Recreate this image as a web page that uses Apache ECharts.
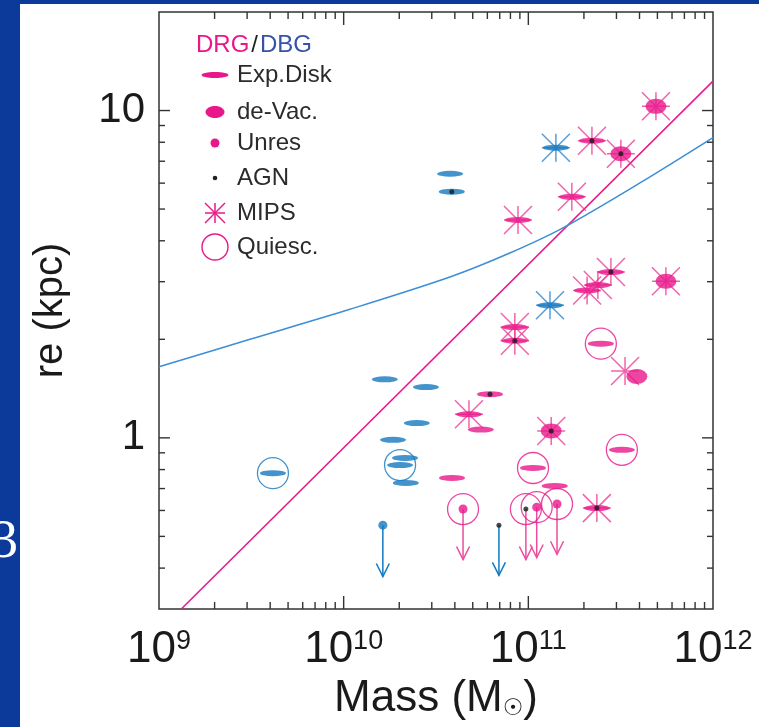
<!DOCTYPE html>
<html>
<head>
<meta charset="utf-8">
<script src="https://cdn.jsdelivr.net/npm/echarts@6/dist/echarts.min.js"></script>
<style>
  html, body { margin: 0; padding: 0; background: #0b3a9b; }
  #chart { width: 759px; height: 727px; }
</style>
</head>
<body>
<div id="chart"></div>
<script>
const PINK = '#e8188b';
const BLUE = '#1479c1';
const CURVE_BLUE = '#3d8ed6';
const FONT = '"Liberation Sans", Arial, sans-serif';

// all points are [mass (Msun), re (kpc)]
const diskDRG = [
  [2.21e11, 8.09], [1.72e11, 5.45], [8.79e10, 4.63], [2.08e11, 2.82], [2.38e11, 2.93],
  [2.80e11, 3.21], [8.45e10, 2.18], [8.45e10, 1.98], [2.47e11, 1.94], [6.20e10, 1.36],
  [4.77e10, 1.18], [5.53e10, 1.06], [3.21e11, 0.919], [1.06e11, 0.809], [3.86e10, 0.754],
  [1.39e11, 0.713], [2.35e11, 0.61]
];
const diskDBG = [
  [3.77e10, 6.41], [3.85e10, 5.65], [1.41e11, 7.7], [1.31e11, 2.54], [1.67e10, 1.51],
  [2.79e10, 1.43], [2.49e10, 1.11], [1.85e10, 0.986], [2.15e10, 0.868], [2.02e10, 0.826],
  [2.17e10, 0.728], [4.14e9, 0.78]
];
const devacDRG = [
  [4.91e11, 10.3], [3.17e11, 7.38], [5.56e11, 3.01], [3.87e11, 1.54], [1.33e11, 1.05]
];
const mipsDRG = [
  [4.91e11, 10.3], [2.21e11, 8.09], [3.17e11, 7.38], [1.72e11, 5.45], [8.79e10, 4.63],
  [2.08e11, 2.82], [2.38e11, 2.93], [2.80e11, 3.21], [5.56e11, 3.01], [8.45e10, 2.18],
  [8.45e10, 1.98], [3.34e11, 1.6], [4.77e10, 1.18], [1.33e11, 1.05], [2.35e11, 0.61]
];
const mipsDBG = [[1.41e11, 7.7], [1.31e11, 2.54]];
const quiescDRG = [
  [2.47e11, 1.94], [3.21e11, 0.919], [1.06e11, 0.809], [4.43e10, 0.606],
  [9.7e10, 0.606], [1.11e11, 0.614], [1.43e11, 0.628]
];
const quiescDBG = [[4.14e9, 0.78], [2.02e10, 0.826]];
// upper limits: [mass, re, arrow tip re]
const limitsDRG = [
  [4.43e10, 0.606, 0.425], [9.7e10, 0.606, 0.425], [1.11e11, 0.614, 0.431], [1.43e11, 0.628, 0.441]
];
const limitsDBG = [[1.63e10, 0.541, 0.377], [6.93e10, 0.541, 0.38]];
const unresDRG = [[4.43e10, 0.606], [1.11e11, 0.614], [1.43e11, 0.628]];
const unresDBG = [[1.63e10, 0.541]];
const agn = [
  [3.85e10, 5.65], [2.21e11, 8.09], [3.17e11, 7.38], [2.80e11, 3.21], [8.45e10, 1.98],
  [6.20e10, 1.36], [1.33e11, 1.05], [2.35e11, 0.61], [9.7e10, 0.606], [6.93e10, 0.541]
];
// relations
const pinkRelation = [[1.32e9, 0.30], [1e12, 12.3]];
const blueRelation = [
  [1e9, 1.65], [3.11e9, 2.00], [1.08e10, 2.47], [3.76e10, 3.10], [7.94e10, 3.67],
  [1.54e11, 4.38], [4.02e11, 6.01], [1e12, 8.27]
];
// tick marks
const xMinorTicks = [2e9, 3e9, 4e9, 5e9, 6e9, 7e9, 8e9, 9e9,
  2e10, 3e10, 4e10, 5e10, 6e10, 7e10, 8e10, 9e10,
  2e11, 3e11, 4e11, 5e11, 6e11, 7e11, 8e11, 9e11];
const xMajorTicks = [1e10, 1e11];
const yMinorTicks = [0.4, 0.5, 0.6, 0.7, 0.8, 0.9, 2, 3, 4, 5, 6, 7, 8, 9];
const yMajorTicks = [1, 10];

const asterisk = 'path://M0 0L20 20M0 20L20 0M10 0L10 20M0 10L20 10';

const chart = echarts.init(document.getElementById('chart'), null, { renderer: 'canvas' });

function xTickItem(params, api) {
  const cs = params.coordSys;
  const len = api.value(2) ? 13 : 7;
  const x = api.coord([api.value(0), 1])[0];
  const st = { stroke: '#333', lineWidth: 1.4 };
  return { type: 'group', children: [
    { type: 'line', shape: { x1: x, y1: cs.y + cs.height, x2: x, y2: cs.y + cs.height - len }, style: st },
    { type: 'line', shape: { x1: x, y1: cs.y, x2: x, y2: cs.y + len }, style: st }
  ] };
}

function yTickItem(params, api) {
  const cs = params.coordSys;
  const len = api.value(2) ? 11 : 6;
  const y = api.coord([1e10, api.value(1)])[1];
  const st = { stroke: '#333', lineWidth: 1.4 };
  return { type: 'group', children: [
    { type: 'line', shape: { x1: cs.x, y1: y, x2: cs.x + len, y2: y }, style: st },
    { type: 'line', shape: { x1: cs.x + cs.width, y1: y, x2: cs.x + cs.width - len, y2: y }, style: st }
  ] };
}

function limitItem(color) {
  return function (params, api) {
    const top = api.coord([api.value(0), api.value(1)]);
    const tip = api.coord([api.value(0), api.value(2)]);
    const st = { stroke: color, lineWidth: 1.5, fill: null };
    return { type: 'group', children: [
      { type: 'line', shape: { x1: top[0], y1: top[1], x2: tip[0], y2: tip[1] }, style: st },
      { type: 'polyline', shape: { points: [[tip[0] - 6.5, tip[1] - 13], [tip[0], tip[1]], [tip[0] + 6.5, tip[1] - 13]] }, style: st }
    ] };
  };
}

function scatter(name, data, opts) {
  return Object.assign({ name, type: 'scatter', data, silent: true }, opts);
}

const legendY = [75, 112, 143, 178, 213, 247];
const legendNames = ['Exp.Disk', 'de-Vac.', 'Unres', 'AGN', 'MIPS', 'Quiesc.'];
const starStyle = { stroke: PINK, lineWidth: 1.5 };
const legendSymbols = [
  { type: 'ellipse', shape: { cx: 215, cy: legendY[0], rx: 13.5, ry: 3 }, style: { fill: PINK } },
  { type: 'ellipse', shape: { cx: 215, cy: legendY[1], rx: 9.5, ry: 6 }, style: { fill: PINK } },
  { type: 'circle', shape: { cx: 215, cy: legendY[2], r: 4.5 }, style: { fill: PINK } },
  { type: 'circle', shape: { cx: 215, cy: legendY[3], r: 2.3 }, style: { fill: '#222' } },
  { type: 'line', shape: { x1: 205, y1: 203, x2: 225, y2: 223 }, style: starStyle },
  { type: 'line', shape: { x1: 205, y1: 223, x2: 225, y2: 203 }, style: starStyle },
  { type: 'line', shape: { x1: 215, y1: 203, x2: 215, y2: 223 }, style: starStyle },
  { type: 'line', shape: { x1: 205, y1: 213, x2: 225, y2: 213 }, style: starStyle },
  { type: 'circle', shape: { cx: 215, cy: legendY[5], r: 13 }, style: { stroke: PINK, lineWidth: 1.4, fill: 'rgba(0,0,0,0)' } }
];

chart.setOption({
  animation: false,
  backgroundColor: '#0b3a9b',
  graphic: [
    { type: 'rect', z: -10, shape: { x: 20, y: 4, width: 739, height: 723 }, style: { fill: '#ffffff' } },
    { type: 'text', z: -5, x: 18, y: 543, style: { text: '3', fill: '#ffffff', font: '54px "Liberation Serif", serif', align: 'right', verticalAlign: 'middle' } },
    { type: 'text', x: 196, y: 45, style: {
      text: '{p|DRG}{k|/}{b|DBG}', verticalAlign: 'middle',
      rich: {
        p: { fill: PINK, fontSize: 24, fontFamily: FONT },
        k: { fill: '#222', fontSize: 24, fontFamily: FONT, padding: [0, 2, 0, 2] },
        b: { fill: '#3553a8', fontSize: 24, fontFamily: FONT }
      } } },
    ...legendNames.map((t, i) => ({ type: 'text', x: 237, y: legendY[i], style: { text: t, fill: '#2b2b2b', fontSize: 24, fontFamily: FONT, verticalAlign: 'middle' } })),
    ...legendSymbols
  ],
  grid: { left: 159, top: 12, right: 46, bottom: 118, show: true, borderColor: '#333', borderWidth: 1.5, backgroundColor: 'transparent' },
  xAxis: {
    type: 'log', logBase: 10, min: 1e9, max: 1e12,
    axisLine: { show: false }, axisTick: { show: false }, splitLine: { show: false },
    axisLabel: {
      margin: 19,
      formatter: (v) => `{b|10}{s|${Math.round(Math.log10(v))}}`,
      rich: {
        b: { fontSize: 44, fontFamily: FONT, color: '#1a1a1a' },
        s: { fontSize: 27, fontFamily: FONT, color: '#1a1a1a', verticalAlign: 'top', lineHeight: 14 }
      }
    },
    name: '{n|Mass (M}{sun|☉}{n|)}', nameLocation: 'middle', nameGap: 65,
    nameTextStyle: {
      rich: {
        n: { fontSize: 44, fontFamily: FONT, color: '#1a1a1a' },
        sun: { fontSize: 23, fontFamily: '"DejaVu Sans", sans-serif', color: '#1a1a1a', verticalAlign: 'bottom', lineHeight: 6 }
      }
    }
  },
  yAxis: {
    type: 'log', logBase: 10, min: 0.3, max: 20,
    axisLine: { show: false }, axisTick: { show: false }, splitLine: { show: false },
    axisLabel: {
      margin: 14, fontSize: 42, fontFamily: FONT, color: '#1a1a1a',
      showMinLabel: false, showMaxLabel: false,
      formatter: (v) => {
        const e = Math.log10(v);
        return Math.abs(e - Math.round(e)) < 1e-6 ? String(Math.round(v)) : '';
      }
    },
    name: 're (kpc)', nameLocation: 'middle', nameGap: 88,
    nameTextStyle: { fontSize: 40, fontFamily: FONT, color: '#1a1a1a' }
  },
  series: [
    { type: 'custom', name: 'xTicks', renderItem: xTickItem, encode: { x: 0, y: 1 }, silent: true,
      data: xMinorTicks.map(v => [v, 1, 0]).concat(xMajorTicks.map(v => [v, 1, 1])) },
    { type: 'custom', name: 'yTicks', renderItem: yTickItem, encode: { x: 0, y: 1 }, silent: true,
      data: yMinorTicks.map(v => [1e10, v, 0]).concat(yMajorTicks.map(v => [1e10, v, 1])) },
    { type: 'line', name: 'pink relation', data: pinkRelation, symbol: 'none', silent: true,
      lineStyle: { color: PINK, width: 1.5 }, z: 1 },
    { type: 'line', name: 'blue relation', data: blueRelation, symbol: 'none', smooth: 0.3, silent: true,
      lineStyle: { color: CURVE_BLUE, width: 1.5 }, z: 1 },
    { type: 'custom', name: 'limits DRG', renderItem: limitItem('#ec4c9f'), encode: { x: 0, y: 1 }, data: limitsDRG, silent: true },
    { type: 'custom', name: 'limits DBG', renderItem: limitItem(BLUE), encode: { x: 0, y: 1 }, data: limitsDBG, silent: true },
    scatter('Quiesc. DRG', quiescDRG, { symbol: 'circle', symbolSize: 31, itemStyle: { color: 'rgba(0,0,0,0)', borderColor: PINK, borderWidth: 1.3 } }),
    scatter('Quiesc. DBG', quiescDBG, { symbol: 'circle', symbolSize: 31, itemStyle: { color: 'rgba(0,0,0,0)', borderColor: BLUE, borderWidth: 1.3 } }),
    scatter('MIPS DRG', mipsDRG, { symbol: asterisk, symbolSize: 28, itemStyle: { color: 'rgba(0,0,0,0)', borderColor: '#ec3d98', borderWidth: 1.5 } }),
    scatter('MIPS DBG', mipsDBG, { symbol: asterisk, symbolSize: 28, itemStyle: { color: 'rgba(0,0,0,0)', borderColor: '#2a86d0', borderWidth: 1.5 } }),
    scatter('Exp.Disk DRG', diskDRG, { symbol: 'circle', symbolSize: [26, 6], itemStyle: { color: PINK } }),
    scatter('Exp.Disk DBG', diskDBG, { symbol: 'circle', symbolSize: [26, 6], itemStyle: { color: BLUE } }),
    scatter('de-Vac. DRG', devacDRG, { symbol: 'circle', symbolSize: [21, 15], itemStyle: { color: PINK } }),
    scatter('Unres DRG', unresDRG, { symbol: 'circle', symbolSize: 9, itemStyle: { color: PINK } }),
    scatter('Unres DBG', unresDBG, { symbol: 'circle', symbolSize: 9, itemStyle: { color: BLUE } }),
    scatter('AGN', agn, { symbol: 'circle', symbolSize: 5, itemStyle: { color: '#1a1a1a' } })
  ]
});
</script>
</body>
</html>
